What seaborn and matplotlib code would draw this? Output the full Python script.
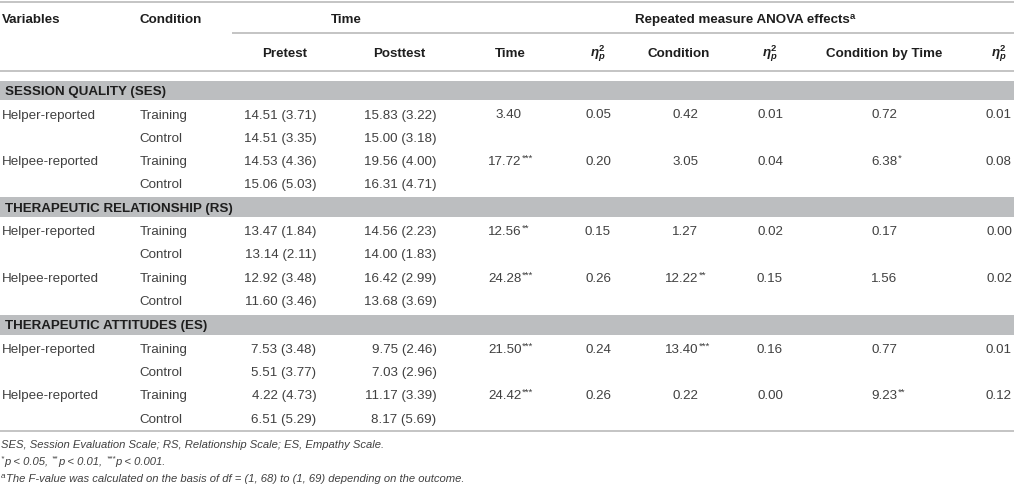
import matplotlib
matplotlib.use("Agg")
import matplotlib.pyplot as plt
import seaborn as sns

# ---------------- data ----------------
sections = ["SESSION QUALITY (SES)", "THERAPEUTIC RELATIONSHIP (RS)", "THERAPEUTIC ATTITUDES (ES)"]
reporters = ["Helper-reported", "Helpee-reported"]
conditions = ["Training", "Control"]

pre_mean = [14.51, 14.51, 14.53, 15.06, 13.47, 13.14, 12.92, 11.60, 7.53, 5.51, 4.22, 6.51]
pre_sd = [3.71, 3.35, 4.36, 5.03, 1.84, 2.11, 3.48, 3.46, 3.48, 3.77, 4.73, 5.29]
post_mean = [15.83, 15.00, 19.56, 16.31, 14.56, 14.00, 16.42, 13.68, 9.75, 7.03, 11.17, 8.17]
post_sd = [3.22, 3.18, 4.00, 4.71, 2.23, 1.83, 2.99, 3.69, 2.46, 2.96, 3.39, 5.69]

time_f = [3.40, 17.72, 12.56, 24.28, 21.50, 24.42]
time_sig = ["", "***", "**", "***", "***", "***"]
time_eta = [0.05, 0.20, 0.15, 0.26, 0.24, 0.26]
cond_f = [0.42, 3.05, 1.27, 12.22, 13.40, 0.22]
cond_sig = ["", "", "", "**", "***", ""]
cond_eta = [0.01, 0.04, 0.02, 0.15, 0.16, 0.00]
cxt_f = [0.72, 6.38, 0.17, 1.56, 0.77, 9.23]
cxt_sig = ["", "*", "", "", "", "**"]
cxt_eta = [0.01, 0.08, 0.00, 0.02, 0.01, 0.12]

header1 = ["Variables", "Condition", "Time", "Repeated measure ANOVA effects"]
header2 = ["Pretest", "Posttest", "Time", "Condition", "Condition by Time"]
foot1 = "SES, Session Evaluation Scale; RS, Relationship Scale; ES, Empathy Scale."
foot2 = [("*", True), ("p < 0.05, ", False), ("**", True), ("p < 0.01, ", False),
         ("***", True), ("p < 0.001.", False)]
foot3 = [("a", True), ("The F-value was calculated on the basis of df = (1, 68) to (1, 69) depending on the outcome.", False)]

# ---------------- style ----------------
sns.set_theme(style="white")
plt.rcParams["font.family"] = ["Liberation Sans", "DejaVu Sans"]
plt.rcParams["mathtext.fontset"] = "custom"
plt.rcParams["mathtext.it"] = "Liberation Sans:italic:bold"
plt.rcParams["mathtext.rm"] = "Liberation Sans:bold"
plt.rcParams["mathtext.bf"] = "Liberation Sans:bold"

W, H = 1014, 497
fig = plt.figure(figsize=(W / 100, H / 100), dpi=100)
ax = fig.add_axes([0, 0, 1, 1])
ax.set_xlim(0, W)
ax.set_ylim(H, 0)
ax.axis("off")

BODY = "#404040"
HEAD = "#1e1e1e"
LINE = "#c4c4c4"
BAND = "#bcbec0"
FS = 9.6
FS_SUP = 6.8
BASE = 4.6  # baseline offset from visual row center (px)

renderer = fig.canvas.get_renderer()


def right_edge(t):
    bb = t.get_window_extent(renderer=renderer)
    inv = ax.transData.inverted()
    return inv.transform((bb.x1, bb.y0))[0]


def txt(x, y, s, ha="left", bold=False, color=BODY, size=FS, style="normal"):
    return ax.text(x, y + BASE, s, ha=ha, va="baseline", fontsize=size,
                   fontweight="bold" if bold else "normal", color=color, fontstyle=style)


def num_with_sig(xr, y, value, sig):
    txt(xr, y, f"{value:.2f}", ha="right")
    if sig:
        ax.text(xr + 0.3, y + BASE - 4.5, sig, ha="left", va="baseline",
                fontsize=FS_SUP, color=BODY)


def pieces(x, y, parts, size, style="italic"):
    for s, sup in parts:
        if sup:
            t = ax.text(x, y + BASE - 4.0, s, ha="left", va="baseline",
                        fontsize=size * 0.72, color=BODY, fontstyle=style)
        else:
            t = ax.text(x, y + BASE, s, ha="left", va="baseline",
                        fontsize=size, color=BODY, fontstyle=style)
        x = right_edge(t) + 0.3


# ---------------- rules and bands ----------------
ax.plot([0, W], [1.5, 1.5], color=LINE, lw=1.4, solid_capstyle="butt")
ax.plot([232, W], [33.3, 33.3], color=LINE, lw=1.4, solid_capstyle="butt")
ax.plot([0, W], [70.7, 70.7], color=LINE, lw=1.4, solid_capstyle="butt")
ax.plot([0, W], [430.7, 430.7], color=LINE, lw=1.4, solid_capstyle="butt")

# ---------------- headers ----------------
y1, y2 = 18.5, 52.0
txt(2, y1, header1[0], bold=True, color=HEAD)
txt(139.3, y1, header1[1], bold=True, color=HEAD)
txt(346, y1, header1[2], ha="center", bold=True, color=HEAD)
t = txt(742, y1, header1[3], ha="center", bold=True, color=HEAD)
ax.text(right_edge(t) + 0.5, y1 + BASE - 4.5, "a", ha="left", va="baseline",
        fontsize=FS_SUP, fontweight="bold", color=HEAD)

txt(285, y2, header2[0], ha="center", bold=True, color=HEAD)
txt(399, y2, header2[1], ha="center", bold=True, color=HEAD)
txt(510, y2, header2[2], ha="center", bold=True, color=HEAD)
txt(679, y2, header2[3], ha="center", bold=True, color=HEAD)
txt(884, y2, header2[4], ha="center", bold=True, color=HEAD)
for xc in (598, 770, 999):
    ax.text(xc, y2 + 1.5, r"$\eta^2_p$", ha="center", va="center",
            fontsize=FS, color=HEAD)

# ---------------- body ----------------
band_tops = [80.7, 197.3, 315.0]
row_pitch = 23.33
k = 0
for si, sec in enumerate(sections):
    top = band_tops[si]
    ax.axhspan(top, top + 19.6, color=BAND, lw=0)
    txt(5, top + 9.8, sec, bold=True, color=HEAD)
    first_row = top + 19.6 + 13.6
    for ri, rep in enumerate(reporters):
        e = si * 2 + ri
        for ci, cond in enumerate(conditions):
            y = first_row + (ri * 2 + ci) * row_pitch
            if ci == 0:
                txt(2, y, rep)
            txt(139.3, y, cond)
            txt(316.5, y, f"{pre_mean[k]:.2f} ({pre_sd[k]:.2f})", ha="right")
            txt(436.5, y, f"{post_mean[k]:.2f} ({post_sd[k]:.2f})", ha="right")
            if ci == 0:
                num_with_sig(521.7, y, time_f[e], time_sig[e])
                txt(598, y, f"{time_eta[e]:.2f}", ha="center")
                num_with_sig(698.3, y, cond_f[e], cond_sig[e])
                txt(770, y, f"{cond_eta[e]:.2f}", ha="center")
                num_with_sig(897.5, y, cxt_f[e], cxt_sig[e])
                txt(999, y, f"{cxt_eta[e]:.2f}", ha="center")
            k += 1

# ---------------- footnotes ----------------
FSF = 8.1
txt(1, 443, foot1, size=FSF, style="italic")
pieces(1, 460, foot2, FSF)
pieces(1, 477, foot3, FSF)

fig.savefig("out.png", dpi=100)
